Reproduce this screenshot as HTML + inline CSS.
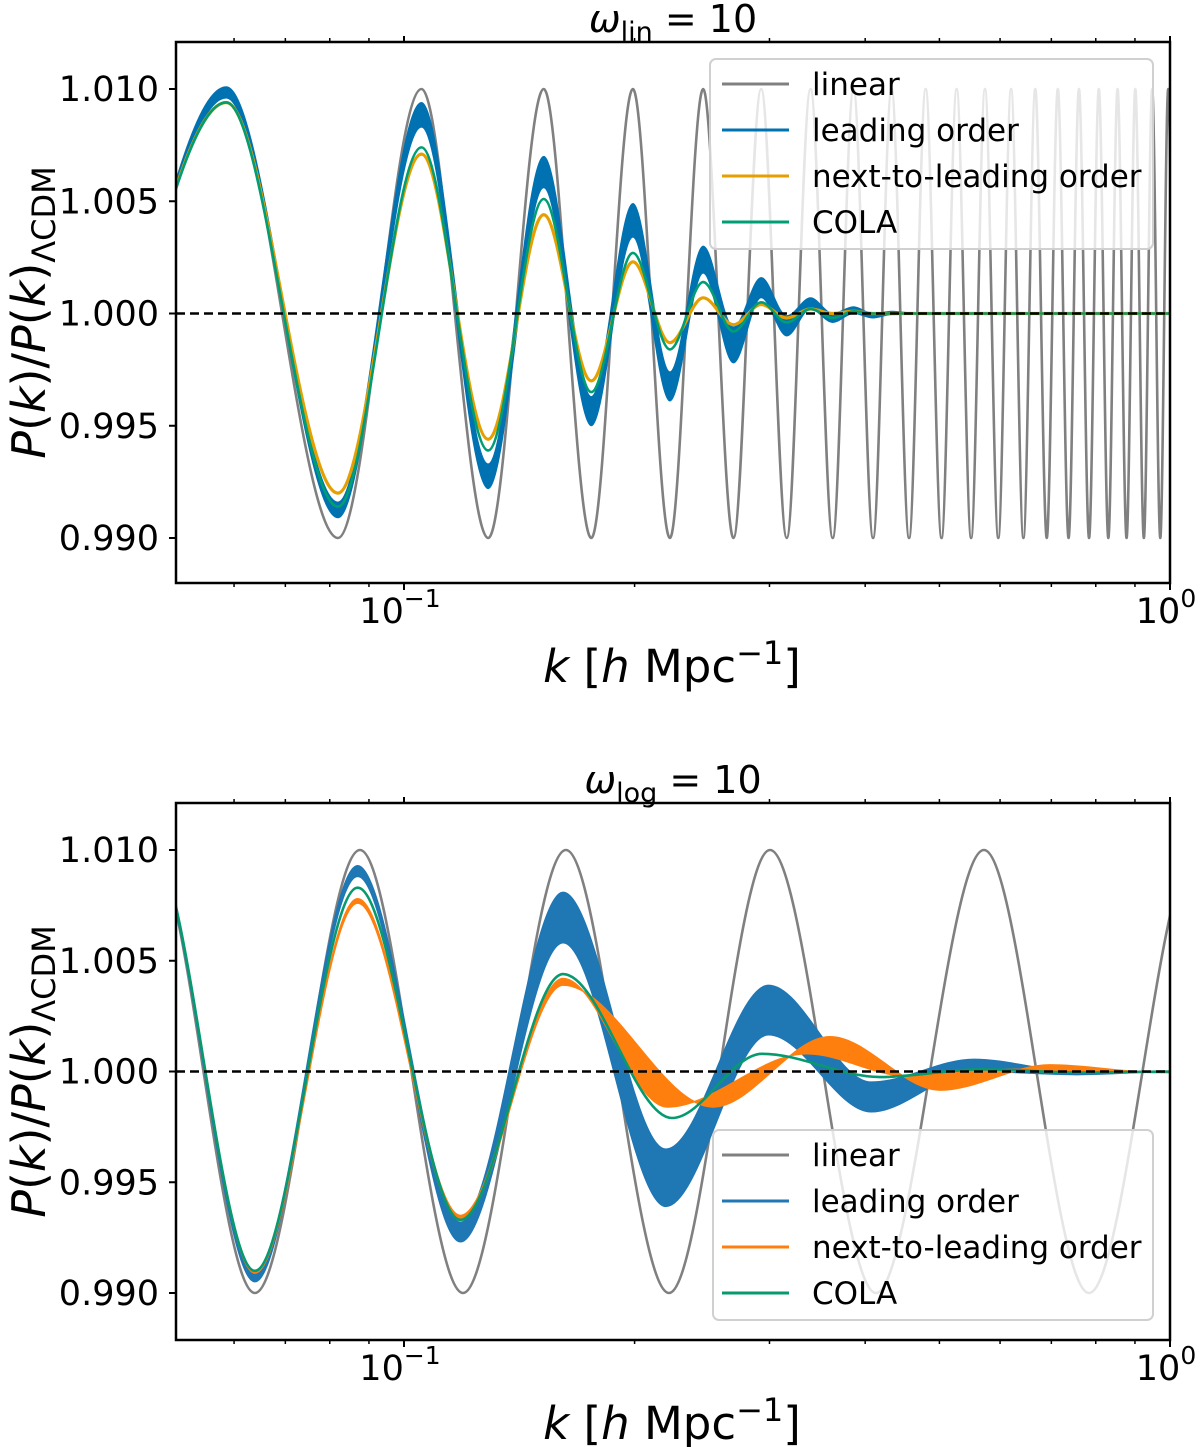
<!DOCTYPE html>
<html><head><meta charset="utf-8"><style>
html,body{margin:0;padding:0;background:#fff;}
svg{display:block;font-family:"DejaVu Sans","Liberation Sans",sans-serif;}
</style></head><body>
<svg id="fig" width="1200" height="1447" viewBox="0 0 1200 1447" xmlns="http://www.w3.org/2000/svg">
<defs>
<clipPath id="clipTop"><rect x="176" y="42" width="994" height="541"/></clipPath>
<clipPath id="clipBot"><rect x="176" y="803" width="994" height="537"/></clipPath>
</defs>
<g id="top"></g>
<g id="bot"></g>
</svg>
<script>
// ---------- data: top panel (omega_lin = 10), values at oscillation extrema ----------
const kTop = [0.0352,0.0586,0.0820,0.1054,0.1288,0.1522,0.1756,0.1990,0.2224,0.2458,0.2692,0.2926,0.3160,0.3394,0.3628,0.3862,0.4096,0.4330,0.4564,0.4798,0.5032,0.5266,0.5500,0.5734,0.5968,0.6202,0.6436,0.6670,0.6904,0.7138,0.7372,0.7606,0.7840,0.8074,0.8308,0.8542,0.8776,0.9010,0.9244,0.9478,0.9712,0.9946,1.0180];
const linTop = [0.990,1.010,0.990,1.010,0.990,1.010,0.990,1.010,0.990,1.010,0.990,1.010,0.990,1.010,0.990,1.010,0.990,1.010,0.990,1.010,0.990,1.010,0.990,1.010,0.990,1.010,0.990,1.010,0.990,1.010,0.990,1.010,0.990,1.010,0.990,1.010,0.990,1.010,0.990,1.010,0.990,1.010,0.990];
const kTopS = [0.0352,0.0586,0.0820,0.1054,0.1288,0.1522,0.1756,0.1990,0.2224,0.2458,0.2692,0.2926,0.3160,0.3394,0.3628,0.3862,0.4096,0.4330,0.4564,1.05];
const loTopHi = [0.9905,1.0101,0.9916,1.0094,0.9933,1.0070,0.9963,1.0049,0.9974,1.0030,0.9994,1.0016,0.9999,1.0007,1.0000,1.0003,1.0000,1.0001,1.00004,1.00004];
const loTopLo = [0.9900,1.0096,0.9909,1.0083,0.9922,1.0056,0.9950,1.0034,0.9961,1.0018,0.9978,1.0007,0.9990,1.0002,0.9996,1.0000,0.9998,0.99995,0.99996,0.99996];
const nloTop = [0.9915,1.0094,0.9920,1.0071,0.9944,1.0044,0.9970,1.0023,0.9987,1.0007,0.9995,1.0004,0.9998,1.0002,1.0000,1.0001,1.0000,1.0000,1.0000,1.0000];
const colaTop = [0.9912,1.0094,0.9914,1.0074,0.9939,1.0051,0.9965,1.0027,0.9984,1.0014,0.9992,1.0005,0.9996,1.0002,0.9998,1.0001,1.0000,1.0000,1.0000,1.0000];

// ---------- data: bottom panel (omega_log = 10) ----------
const kBot = [0.04689,0.06388,0.08760,0.11941,0.16270,0.22179,0.30048,0.41325,0.57164,0.78389,1.0813];
const linBot = [1.010,0.990,1.010,0.990,1.010,0.990,1.010,0.990,1.010,0.990,1.010];
const kLo = [0.04693,0.06388,0.08700,0.11848,0.16131,0.21967,0.29913,0.40730,0.55462,0.75523,1.0284];
const loBotHi = [1.0100,0.9910,1.0093,0.9932,1.0081,0.9965,1.0039,0.99953,1.00056,1.0000,1.0000];
const loBotLo = [1.0098,0.9905,1.0088,0.9923,1.0058,0.9939,1.00165,0.99817,1.0000,0.99985,1.0000];
const kNloA = [0.04693,0.06388,0.08700,0.11848,0.16131,0.22046,0.33589,0.45353,0.61247,0.82758,1.1176];
const nloA = [1.0100,0.9910,1.0078,0.9935,1.0042,0.9984,1.0008,0.9998,1.0001,1.0000,1.0000];
const kNloB = [0.04693,0.06388,0.08700,0.11848,0.16131,0.25318,0.35986,0.50088,0.69720,0.97039,1.3507];
const nloB = [1.0100,0.9909,1.0076,0.9933,1.0039,0.9984,1.00157,0.99916,1.0003,0.99995,1.0000];
const kCola = [0.04693,0.06388,0.08700,0.11848,0.16131,0.22379,0.29334,0.41821,0.56489,0.7624,1.0327];
const colaBot = [1.0100,0.9910,1.0083,0.9933,1.0044,0.9979,1.0008,0.99975,1.0001,0.99995,1.0000];

const yTicks = [0.990,0.995,1.000,1.005,1.010];
const yTickLabels = ["0.990","0.995","1.000","1.005","1.010"];
const minorK = [0.06,0.07,0.08,0.09,0.2,0.3,0.4,0.5,0.6,0.7,0.8,0.9];

// ---------- scales ----------
const X0 = 176, X1 = 1170;
function xS(k){ return 404 + (Math.log10(k) + 1) * 766; }
function yTopS(v){ return 313.5 - (v - 1) * 22450; }
function yBotS(v){ return 1071.5 - (v - 1) * 22150; }

const NS = "http://www.w3.org/2000/svg";
function mk(tag, attrs, parent){
  const e = document.createElementNS(NS, tag);
  for (const a in attrs) e.setAttribute(a, attrs[a]);
  parent.appendChild(e);
  return e;
}
function pts(ks, vs, ys){ return ks.map((k,i)=>[xS(k), ys(vs[i])]); }
function curve(p, move){
  let d = (move ? "M" : "L") + p[0][0].toFixed(2) + " " + p[0][1].toFixed(2);
  for (let i = 1; i < p.length; i++){
    const [x0,y0] = p[i-1], [x1,y1] = p[i], dx = x1 - x0;
    d += " C" + (x0+dx/3).toFixed(2) + " " + y0.toFixed(2) + " " + (x1-dx/3).toFixed(2) + " " + y1.toFixed(2) + " " + x1.toFixed(2) + " " + y1.toFixed(2);
  }
  return d;
}
function band(pa, pb){ return curve(pa, true) + " " + curve(pb.slice().reverse(), false) + " Z"; }

function plotArea(g, clipId){
  const cg = mk("g", {"clip-path": "url(#" + clipId + ")"}, g);
  
  
  return cg;
}

function frame(g, top, bottom, ys, sub, legendY, colors, legendX, legendW){
  const sp = mk("rect", {x: X0, y: top, width: X1 - X0, height: bottom - top, fill: "none", stroke: "#000", "stroke-width": 2.5}, g);
  
  
  yTicks.forEach((v, i) => {
    const y = ys(v);
    const t = mk("line", {x1: X0 - 7, x2: X0, y1: y, y2: y, stroke: "#000", "stroke-width": 2}, g);
    
    
    const tx = mk("text", {x: 159, y: y + 12, "text-anchor": "end", "font-size": 35, fill: "#000"}, g);
    tx.textContent = yTickLabels[i];
    
    
  });
  [0.1, 1].forEach(k => {
    const x = xS(k);
    [[bottom, bottom + 7], [top, top - 6]].forEach(([a, b]) => {
      const t = mk("line", {x1: x, x2: x, y1: a, y2: b, stroke: "#000", "stroke-width": 2}, g);
      
      
    });
  });
  minorK.forEach(k => {
    const x = xS(k);
    [[bottom, bottom + 4], [top, top - 4]].forEach(([a, b]) => {
      const t = mk("line", {x1: x, x2: x, y1: a, y2: b, stroke: "#000", "stroke-width": 1.5}, g);
      
      
    });
  });
  [[0.1, "−1"], [1, "0"]].forEach(([k, e]) => {
    const x = xS(k);
    const tx = mk("text", {x: x - 4, y: bottom + 40, "text-anchor": "middle", "font-size": 35, fill: "#000"}, g);
    
    
    tx.appendChild(document.createTextNode("10"));
    const s = mk("tspan", {dy: -16, "font-size": 25}, tx);
    s.textContent = e;
  });
  const xl = mk("text", {x: 672, y: bottom + 99, "text-anchor": "middle", "font-size": 45, fill: "#000"}, g);
  
  
  xl.innerHTML = '<tspan font-style="italic">k</tspan> [<tspan font-style="italic">h</tspan> Mpc<tspan dy="-18" font-size="32">−1</tspan><tspan dy="18">]</tspan>';
  const cy = (top + bottom) / 2;
  const yl = mk("text", {transform: "translate(45," + cy + ") rotate(-90)", "text-anchor": "middle", "font-size": 46, fill: "#000"}, g);
  
  
  yl.innerHTML = '<tspan font-style="italic">P</tspan>(<tspan font-style="italic">k</tspan>)/<tspan font-style="italic">P</tspan>(<tspan font-style="italic">k</tspan>)<tspan dy="10" font-size="32">ΛCDM</tspan>';
  const tt = mk("text", {x: 673, y: top - 10, "text-anchor": "middle", "font-size": 38, fill: "#000"}, g);
  
  
  tt.innerHTML = '<tspan font-style="italic">ω</tspan><tspan dy="9" font-size="27">' + sub + '</tspan><tspan dy="-9"> = 10</tspan>';
  const lg = mk("g", {}, g);
  
  
  const bx = mk("rect", {x: legendX, y: legendY, width: legendW, height: 190, rx: 6, fill: "#fff", "fill-opacity": 0.8, stroke: "#d0d0d0", "stroke-width": 2}, lg);
  
  
  const names = ["linear", "leading order", "next-to-leading order", "COLA"];
  names.forEach((n, i) => {
    const y = legendY + 25 + i * 46;
    const ln = mk("line", {x1: 722, x2: 789, y1: y, y2: y, stroke: colors[i], "stroke-width": 3}, lg);
    
    
    const tx = mk("text", {x: 812, y: y + 11, "font-size": 31, fill: "#000"}, lg);
    tx.textContent = n;
    
    
  });
}

// ---------- top panel ----------
(function(){
  const g = document.getElementById("top");
  const cg = plotArea(g, "clipTop");
  const lin = mk("path", {d: curve(pts(kTop, linTop, yTopS), true), fill: "none", stroke: "#808080", "stroke-width": 2.6}, cg);
  
  
  const lo = mk("path", {d: band(pts(kTopS, loTopHi, yTopS), pts(kTopS, loTopLo, yTopS)), fill: "#0072B2", stroke: "#0072B2", "stroke-width": 1}, cg);
  
  
  const nlo = mk("path", {d: curve(pts(kTopS, nloTop, yTopS), true), fill: "none", stroke: "#E69F00", "stroke-width": 3.2}, cg);
  
  
  const co = mk("path", {d: curve(pts(kTopS, colaTop, yTopS), true), fill: "none", stroke: "#009E73", "stroke-width": 2.6}, cg);
  
  
  const dl = mk("line", {x1: X0, x2: X1, y1: yTopS(1), y2: yTopS(1), stroke: "#000", "stroke-width": 2.5, "stroke-dasharray": "9 5"}, cg);
  
  
  frame(g, 42, 583, yTopS, "lin", 59, ["#808080", "#0072B2", "#E69F00", "#009E73"], 710, 443);
})();

// ---------- bottom panel ----------
(function(){
  const g = document.getElementById("bot");
  const cg = plotArea(g, "clipBot");
  const lin = mk("path", {d: curve(pts(kBot, linBot, yBotS), true), fill: "none", stroke: "#808080", "stroke-width": 2.6}, cg);
  
  
  const lo = mk("path", {d: band(pts(kLo, loBotHi, yBotS), pts(kLo, loBotLo, yBotS)), fill: "#1f77b4", stroke: "#1f77b4", "stroke-width": 1}, cg);
  
  
  const nlo = mk("path", {d: band(pts(kNloA, nloA, yBotS), pts(kNloB, nloB, yBotS)), fill: "#ff7f0e", stroke: "#ff7f0e", "stroke-width": 1.5}, cg);
  
  
  const co = mk("path", {d: curve(pts(kCola, colaBot, yBotS), true), fill: "none", stroke: "#079a6e", "stroke-width": 2.6}, cg);
  
  
  const dl = mk("line", {x1: X0, x2: X1, y1: yBotS(1), y2: yBotS(1), stroke: "#000", "stroke-width": 2.5, "stroke-dasharray": "9 5"}, cg);
  
  
  frame(g, 803, 1340, yBotS, "log", 1130, ["#808080", "#1f77b4", "#ff7f0e", "#079a6e"], 713, 440);
})();
</script>
</body></html>
